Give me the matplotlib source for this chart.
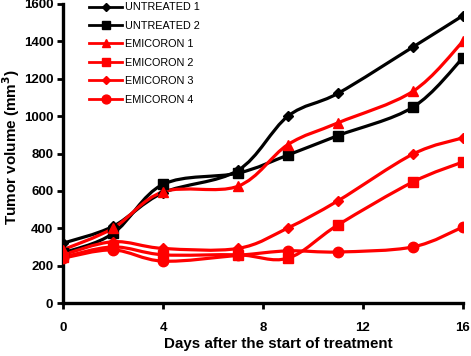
import numpy as np
import matplotlib
matplotlib.use("Agg")
import matplotlib.pyplot as plt
from matplotlib.path import Path
from matplotlib.patches import PathPatch

days = [0, 2, 4, 7, 9, 11, 14, 16]
untreated1 = [320, 410, 590, 710, 1000, 1122, 1370, 1538]
untreated2 = [268, 372, 635, 695, 792, 896, 1048, 1312]
emicoron1 = [285, 400, 595, 625, 848, 964, 1133, 1400]
emicoron2 = [245, 300, 258, 258, 240, 418, 648, 755]
emicoron3 = [258, 328, 292, 292, 402, 547, 797, 884]
emicoron4 = [240, 284, 224, 255, 279, 273, 300, 407]
labels = ["UNTREATED 1", "UNTREATED 2", "EMICORON 1", "EMICORON 2", "EMICORON 3", "EMICORON 4"]
colors = ["black", "black", "red", "red", "red", "red"]
markers = ["D", "s", "^", "s", "D", "o"]
msizes = [5, 7, 7.5, 7, 5, 7.5]
series = [untreated1, untreated2, emicoron1, emicoron2, emicoron3, emicoron4]

plt.rcParams['font.family'] = ['Liberation Sans', 'DejaVu Sans']

fig = plt.figure(figsize=(4.71, 3.56), dpi=100)
ax = fig.add_axes([63/471, 1-303/356, 400/471, 299/356])


def smooth_path(x, y):
    x = np.asarray(x, float); y = np.asarray(y, float)
    n = len(x)
    verts = [(x[0], y[0])]
    codes = [Path.MOVETO]
    for i in range(n - 1):
        p0 = np.array([x[max(i-1, 0)], y[max(i-1, 0)]])
        p1 = np.array([x[i], y[i]])
        p2 = np.array([x[i+1], y[i+1]])
        p3 = np.array([x[min(i+2, n-1)], y[min(i+2, n-1)]])
        c1 = p1 + (p2 - p0) / 6
        c2 = p2 - (p3 - p1) / 6
        verts += [tuple(c1), tuple(c2), tuple(p2)]
        codes += [Path.CURVE4] * 3
    return Path(verts, codes)

handles = []
order = [5, 4, 3, 1, 2, 0]
for i in order:
    vals = series[i]
    patch = PathPatch(smooth_path(days, vals), facecolor='none', edgecolor=colors[i], lw=2.3, zorder=2+i*0.1)
    ax.add_patch(patch)
    ax.plot(days, vals, linestyle='none', marker=markers[i], color=colors[i], ms=msizes[i], zorder=3+i*0.1)

for i in range(6):
    h, = ax.plot([], [], color=colors[i], marker=markers[i], ms=msizes[i]*0.85, lw=2.0, label=labels[i])
    handles.append(h)

leg = ax.legend(handles=handles, loc='upper left', bbox_to_anchor=(0.055, 1.02), frameon=False,
                fontsize=7.8, handlelength=3.0, labelspacing=0.78, handletextpad=0.3, borderaxespad=0)

ax.set_xlim(0, 16)
ax.set_ylim(0, 1600)
ax.set_xticks([0, 4, 8, 12, 16])
ax.set_yticks(range(0, 1601, 200))
for s in ['top', 'right']:
    ax.spines[s].set_visible(False)
for s in ['left', 'bottom']:
    ax.spines[s].set_linewidth(2.4)
ax.tick_params(axis='both', direction='out', width=2, length=4, labelsize=9.5, pad=10)
ax.tick_params(axis='y', pad=3)
for lab in ax.get_xticklabels() + ax.get_yticklabels():
    lab.set_fontweight('bold')
ax.set_xlabel('Days after the start of treatment', fontsize=10.9, fontweight='bold', labelpad=2)
ax.xaxis.label.set_x(0.5375)
ax.set_ylabel('Tumor volume (mm$^\\mathbf{3}$)', fontsize=11, fontweight='bold', labelpad=1.5)
ax.yaxis.label.set_y(0.52)

fig.savefig('out.png', dpi=100)
